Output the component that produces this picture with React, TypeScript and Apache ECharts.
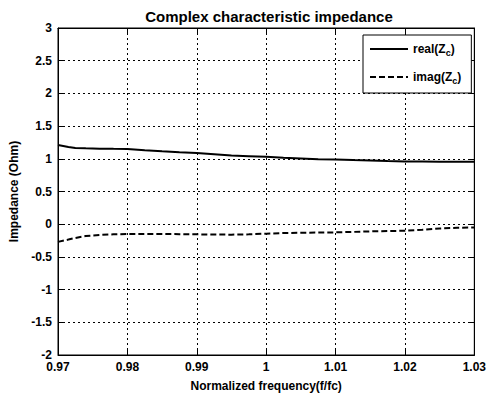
import React, { useEffect, useRef } from "react";
import * as echarts from "echarts";

const freq = [0.97, 0.9715, 0.9725, 0.974, 0.976, 0.978, 0.98, 0.9825, 0.985, 0.9875, 0.99, 0.9925, 0.995, 0.9975, 1.0, 1.0025, 1.005, 1.0075, 1.01, 1.0125, 1.015, 1.0175, 1.02, 1.0225, 1.025, 1.0275, 1.03];
const realZc = [1.21, 1.18, 1.165, 1.16, 1.155, 1.152, 1.15, 1.13, 1.114, 1.1, 1.09, 1.07, 1.05, 1.04, 1.03, 1.015, 1.005, 0.995, 0.99, 0.98, 0.975, 0.965, 0.96, 0.958, 0.956, 0.955, 0.955];
const imagZc = [-0.27, -0.235, -0.21, -0.18, -0.165, -0.155, -0.15, -0.15, -0.15, -0.152, -0.155, -0.158, -0.16, -0.155, -0.145, -0.135, -0.13, -0.128, -0.125, -0.118, -0.11, -0.105, -0.1, -0.085, -0.065, -0.055, -0.05];

const FONT = "'Liberation Sans', Arial, sans-serif";

export default function App() {
  const ref = useRef<HTMLDivElement>(null);
  useEffect(() => {
    const chart = echarts.init(ref.current!, null, { renderer: "svg" });
    const tickLabel = { color: "#000", fontFamily: FONT, fontWeight: "bold" as const, fontSize: 12 };
    chart.setOption({
      animation: false,
      backgroundColor: "#fff",
      title: {
        text: "Complex characteristic impedance",
        left: 264,
        textAlign: "center",
        top: 4,
        textStyle: { fontFamily: FONT, fontWeight: "bold", fontSize: 15, color: "#000" },
      },
      grid: { left: 54, right: 12, top: 28, bottom: 41, show: true, borderColor: "#000", borderWidth: 1, backgroundColor: "transparent" },
      legend: {
        left: 363,
        top: 35,
        orient: "vertical",
        backgroundColor: "#fff",
        borderColor: "#000",
        borderWidth: 1,
        borderRadius: 0,
        padding: [8, 10, 8, 6],
        itemGap: 14,
        itemWidth: 38,
        itemHeight: 12,
        itemStyle: { opacity: 0, borderWidth: 0 },
        textStyle: {
          color: "#000",
          fontFamily: FONT,
          fontWeight: "bold",
          fontSize: 12,
          rich: {
            n: { fontFamily: FONT, fontWeight: "bold", fontSize: 12, color: "#000" },
            s: { fontFamily: FONT, fontWeight: "bold", fontSize: 9, color: "#000", padding: [7, 0, 0, 0] },
          },
        },
        formatter: (name: string) => `{n|${name}(Z}{s|c}{n|)}`,
        data: ["real", "imag"],
      },
      xAxis: [
        {
          type: "value",
          min: 0.97,
          max: 1.03,
          interval: 0.01,
          name: "Normalized frequency(f/fc)",
          nameLocation: "middle",
          nameGap: 25,
          nameTextStyle: { color: "#000", fontFamily: FONT, fontWeight: "bold", fontSize: 12 },
          axisLine: { show: true, onZero: false, lineStyle: { color: "#000" } },
          axisTick: { show: true, inside: true, length: 5, lineStyle: { color: "#000" } },
          axisLabel: { ...tickLabel, margin: 6 },
          splitLine: { show: true, lineStyle: { color: "#000", type: [2, 3], width: 1 } },
        },
        {
          type: "value",
          position: "top",
          min: 0.97,
          max: 1.03,
          interval: 0.01,
          axisLine: { show: true, onZero: false, lineStyle: { color: "#000" } },
          axisTick: { show: true, inside: true, length: 5, lineStyle: { color: "#000" } },
          axisLabel: { show: false },
          splitLine: { show: false },
        },
      ],
      yAxis: [
        {
          type: "value",
          min: -2,
          max: 3,
          interval: 0.5,
          name: "Impedance (Ohm)",
          nameLocation: "middle",
          nameGap: 38,
          nameTextStyle: { color: "#000", fontFamily: FONT, fontWeight: "bold", fontSize: 12 },
          axisLine: { show: true, onZero: false, lineStyle: { color: "#000" } },
          axisTick: { show: true, inside: true, length: 5, lineStyle: { color: "#000" } },
          axisLabel: { ...tickLabel, margin: 6 },
          splitLine: { show: true, lineStyle: { color: "#000", type: [2, 3], width: 1 } },
        },
        {
          type: "value",
          position: "right",
          min: -2,
          max: 3,
          interval: 0.5,
          axisLine: { show: true, onZero: false, lineStyle: { color: "#000" } },
          axisTick: { show: true, inside: true, length: 5, lineStyle: { color: "#000" } },
          axisLabel: { show: false },
          splitLine: { show: false },
        },
      ],
      series: [
        {
          name: "real",
          type: "line",
          symbol: "none",
          data: freq.map((f, i) => [f, realZc[i]]),
          lineStyle: { color: "#000", width: 2, type: "solid" },
          itemStyle: { color: "#000" },
        },
        {
          name: "imag",
          type: "line",
          symbol: "none",
          data: freq.map((f, i) => [f, imagZc[i]]),
          lineStyle: { color: "#000", width: 2, type: [6, 3] },
          itemStyle: { color: "#000" },
        },
      ],
    });
    return () => chart.dispose();
  }, []);
  return <div ref={ref} style={{ width: 489, height: 397, position: "absolute", left: 0, top: 0 }} />;
}
